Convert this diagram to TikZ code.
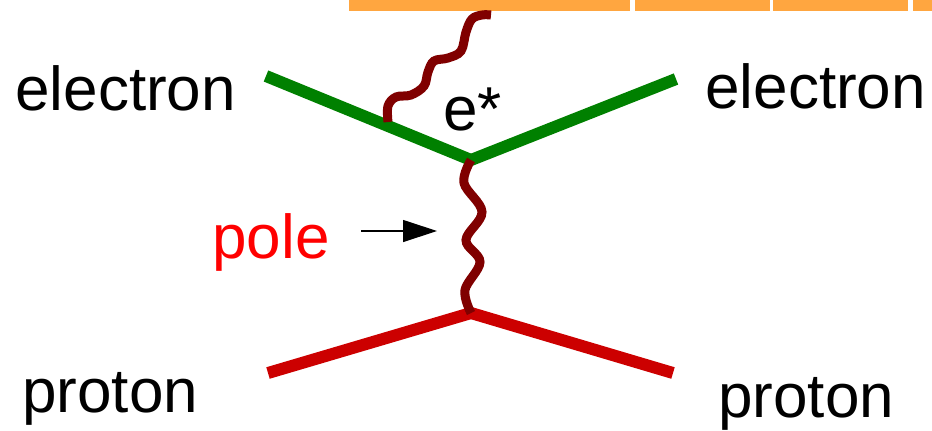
\documentclass[tikz,border=0pt]{standalone}
\usepackage{fontspec}
\setmainfont{Liberation Sans}
\usetikzlibrary{arrows.meta}
\definecolor{egreen}{RGB}{0,128,0}
\definecolor{pred}{RGB}{204,0,0}
\definecolor{phot}{RGB}{128,0,0}
\definecolor{bar}{RGB}{255,166,64}
\definecolor{polered}{RGB}{255,0,0}
\begin{document}
\begin{tikzpicture}[x=0.5pt,y=-0.5pt,
  lbl/.style={inner sep=0pt,anchor=base west,font=\fontsize{31pt}{37pt}\selectfont},
  eline/.style={draw=egreen,line width=6pt,line cap=butt},
  pline/.style={draw=pred,line width=6pt,line cap=butt},
  photon/.style={draw=phot,line width=4.5pt,line cap=butt},
  pointer/.style={draw=black,line width=0.6pt,-{Triangle[length=17pt,width=11pt]}},
  barbox/.style={fill=bar,draw=none}]
\useasboundingbox (0,0) rectangle (932,430);
% orange bars at top
\fill[barbox] (349,0) rectangle (630,11);
\fill[barbox] (635,0) rectangle (770,11);
\fill[barbox] (773,0) rectangle (908,11);
\fill[barbox] (913,0) rectangle (932,11);
% vertices and ends
\coordinate (ev) at (471,160);
\coordinate (pv) at (471,313);
\coordinate (ein) at (266,76);
\coordinate (eout) at (676,79);
\coordinate (pin) at (268,373);
\coordinate (pout) at (673,373);
\coordinate (gs) at (388,122);
\coordinate (ge) at (491,15);
\coordinate (as) at (361,231);
\coordinate (ae) at (437,231);
% labels
\node[lbl] (eL) at (15,110) {electron};
\node[lbl] (eR) at (705,108) {electron};
\node[lbl] (es) at (443,130) {e*};
\node[lbl,text=polered] (pole) at (212,258) {pole};
\node[lbl] (pL) at (22,412) {proton};
\node[lbl] (pR) at (718,417) {proton};
% fermion lines
\draw[eline] (ein) -- (ev);
\draw[eline] (ev) -- (eout);
\draw[pline] (pin) -- (pv);
\draw[pline] (pv) -- (pout);
% photons
\draw[photon] plot[smooth,tension=0.6] coordinates {(ev) (464,183) (482,212) (466,240) (480,262) (465,290) (pv)};
\draw[photon] plot[smooth,tension=0.6] coordinates {(gs) (388,106) (396,97) (411,95) (424,86) (428,72) (434,61) (448,58) (461,51) (466,32) (472,19) (482,15) (ge)};
% pointer
\draw[pointer] (as) -- (ae);
\end{tikzpicture}
\end{document}
